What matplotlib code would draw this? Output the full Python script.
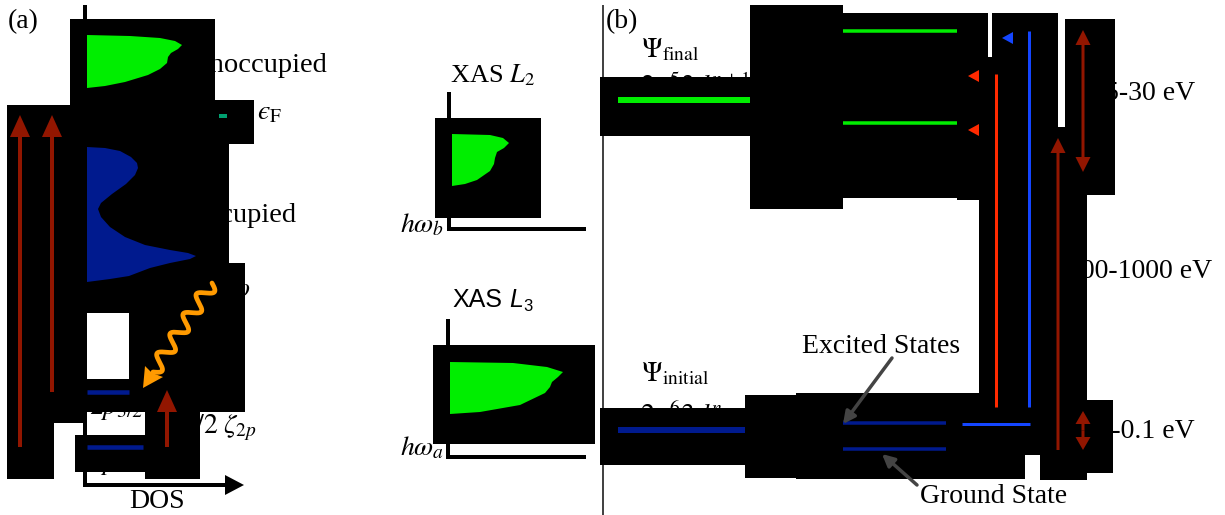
import numpy as np
import matplotlib.pyplot as plt
from matplotlib.patches import Rectangle, Polygon

plt.rcParams['mathtext.fontset'] = 'stix'
SERIF = 'Liberation Serif'
SANS = 'Liberation Sans'

W, H = 1225, 515

GREEN = '#00ee00'
DARK_BLUE = '#001a8e'
BRIGHT_BLUE = '#1446ff'
RED = '#ff2a00'
DARK_RED = '#921600'
ORANGE = '#ff9a00'
GREY = '#444444'
FERMI = '#00a070'

# ---- panel (a): density of states outlines (x, y) ----
unocc_dos = [(87, 35), (130, 36), (160, 38), (175, 41), (182, 45), (178, 49),
             (171, 53), (168, 57), (167, 63), (160, 69), (148, 75), (125, 82),
             (105, 86), (87, 88)]
occ_dos = [(87, 147), (105, 148), (120, 151), (131, 157), (137, 163), (138, 168),
           (135, 175), (126, 184), (112, 194), (101, 203), (98, 209), (101, 217),
           (110, 227), (125, 237), (145, 245), (170, 250), (188, 253), (196, 256),
           (190, 259), (170, 263), (150, 268), (129, 276), (110, 279), (87, 282)]

# ---- XAS edge shapes ----
xas_l2 = [(452, 134), (490, 135), (503, 138), (509, 143), (504, 148), (497, 152),
          (495, 158), (494, 164), (490, 171), (477, 180), (465, 184), (452, 186)]
xas_l3 = [(450, 362), (513, 363), (547, 367), (563, 372), (558, 377), (552, 382),
          (550, 387), (545, 393), (520, 405), (480, 412), (450, 414)]

# ---- core levels in panel (a) ----
core_levels = [('$2p_{3/2}$', 392, 87, 129), ('$2p_{1/2}$', 447, 87, 143)]

# ---- panel (b) levels ----
final_levels = [100]
initial_levels = [430]
final_multiplet = [31, 123]
initial_multiplet = [423, 449]

# ---- opaque blocks (x0, y0, x1, y1) ----
blocks = [
    (70, 19, 215, 144), (150, 100, 254, 144), (7, 105, 87, 423), (7, 423, 54, 479),
    (70, 144, 229, 313), (129, 263, 245, 412), (87, 379, 245, 412),
    (145, 412, 200, 479), (75, 435, 145, 472),
    (435, 118, 541, 218), (433, 345, 595, 444),
    (600, 77, 750, 136), (600, 408, 745, 465), (750, 5, 843, 209),
    (843, 13, 988, 198), (957, 57, 992, 200), (992, 13, 1058, 127),
    (1065, 19, 1115, 195), (979, 127, 1087, 455), (745, 395, 850, 478),
    (796, 393, 1025, 479), (1040, 400, 1087, 480), (1087, 400, 1113, 473),
]

fig = plt.figure(figsize=(12.25, 5.15), dpi=100)
ax = fig.add_axes([0, 0, 1, 1])
ax.set_xlim(0, W)
ax.set_ylim(H, 0)
ax.axis('off')


def seg(xs, ys, color, px, z=3):
    ax.plot(xs, ys, color=color, lw=px * 0.72, solid_capstyle='butt', zorder=z)


def txt(x, y, s, size=20, family=SERIF, ha='left', style='normal', z=1):
    ax.text(x, y, s, fontsize=size, family=family, ha=ha, va='baseline',
            style=style, zorder=z)


def up_arrow(x, y0, y1, color, shaft, hw, hl):
    ax.arrow(x, y0, 0, y1 - y0, width=shaft, head_width=hw, head_length=hl,
             length_includes_head=True, fc=color, ec='none', zorder=3)


# ---------------- panel (a) ----------------
txt(8, 28, '(a)')
seg([85, 85], [5, 487], 'black', 4, z=1)
ax.arrow(85, 485, 140, 0, width=4, head_width=20, head_length=19,
         length_includes_head=False, fc='black', ec='none', zorder=1)
txt(157, 508, 'DOS', ha='center')
txt(189, 72, 'Unoccupied', size=20.5)
txt(188, 222, 'Occupied', size=20.5)
txt(257, 119, '$\u03f5_{\\rm F}$')
txt(251, 296, r'$\hbar\omega$', ha='right')
for label, y, x0, x1 in core_levels:
    txt(89, y + 22, label)
txt(257, 433, r'$3/2\;\zeta_{2p}$', ha='right')

# ---------------- XAS insets ----------------
txt(450, 82, 'XAS $L_2$', size=19)
seg([449, 449], [92, 231], 'black', 4, z=1)
seg([447, 586], [229, 229], 'black', 4, z=1)
txt(444, 232, r'$h\omega_b$', ha='right')

txt(452, 307, 'XAS', size=18, family=SANS)
txt(509, 307, 'L', size=18, family=SANS, style='italic')
txt(523, 311, '3', size=12, family=SANS)
seg([448, 448], [319, 459], 'black', 4, z=1)
seg([446, 586], [457, 457], 'black', 4, z=1)
txt(444, 455, r'$h\omega_a$', ha='right')

# ---------------- panel (b) ----------------
seg([603, 603], [5, 515], GREY, 2, z=1)
txt(606, 28, '(b)')
txt(641, 57, r'$\Psi_{\rm final}$')
txt(640, 95, r'$2p^{5}3d^{n+1}$')
txt(641, 381, r'$\Psi_{\rm initial}$')
txt(640, 424, r'$2p^{6}3d^{n}$')
txt(802, 353, 'Excited States')
txt(920, 503, 'Ground State')
txt(1195, 100, '5-30 eV', ha='right')
txt(1212, 278, '500-1000 eV', ha='right')
txt(1195, 438, '0.05-0.1 eV', ha='right')

# opaque blocks
for x0, y0, x1, y1 in blocks:
    ax.add_patch(Rectangle((x0, y0), x1 - x0, y1 - y0, fc='black', ec='none',
                           zorder=2, antialiased=False))

# ---- coloured content on top ----
ax.add_patch(Polygon(unocc_dos, closed=True, fc=GREEN, ec='none', zorder=3))
ax.add_patch(Polygon(occ_dos, closed=True, fc=DARK_BLUE, ec='none', zorder=3))
seg([219, 227], [116, 116], FERMI, 4)
for label, y, x0, x1 in core_levels:
    seg([x0, x1], [y, y], DARK_BLUE, 4.5)

up_arrow(20, 447, 115, DARK_RED, 4, 20, 22)
up_arrow(52, 392, 115, DARK_RED, 4, 20, 22)
up_arrow(167, 447, 390, DARK_RED, 4, 20, 22)

# photon (wavy) arrow
p0 = np.array([212.0, 283.0])
p1 = np.array([153.0, 372.0])
d = p1 - p0
n = np.array([d[1], -d[0]]) / np.hypot(*d)
t = np.linspace(0, 1, 400)
wave = p0[None, :] + t[:, None] * d[None, :] + 7 * np.sin(2 * np.pi * 4.5 * t)[:, None] * n[None, :]
ax.plot(wave[:, 0], wave[:, 1], color=ORANGE, lw=3.4, solid_capstyle='round', zorder=3)
ax.add_patch(Polygon([(143, 388), (145, 366), (152, 373), (163, 377)], closed=True,
                     fc=ORANGE, ec='none', zorder=3))

ax.add_patch(Polygon(xas_l2, closed=True, fc=GREEN, ec='none', zorder=3))
ax.add_patch(Polygon(xas_l3, closed=True, fc=GREEN, ec='none', zorder=3))

for y in final_levels:
    seg([618, 750], [y, y], GREEN, 6)
for y in initial_levels:
    seg([618, 745], [y, y], DARK_BLUE, 6)
for y in final_multiplet:
    seg([843, 957], [y, y], GREEN, 3.5)
for y in initial_multiplet:
    seg([843, 946], [y, y], DARK_BLUE, 3.5)

# absorption / emission lines
seg([996, 996], [74, 407], RED, 3)
seg([1029, 1029], [31, 407], BRIGHT_BLUE, 3)
seg([962, 1030], [424, 424], BRIGHT_BLUE, 3)
for yc in (76, 130):
    ax.add_patch(Polygon([(968, yc), (979, yc - 6), (979, yc + 6)], closed=True,
                         fc=RED, ec='none', zorder=3))
ax.add_patch(Polygon([(1002, 38), (1013, 32), (1013, 44)], closed=True,
                     fc=BRIGHT_BLUE, ec='none', zorder=3))

up_arrow(1058, 450, 138, DARK_RED, 3, 15, 15)
for ya, yb in ((30, 172), (411, 450)):
    mid = 0.5 * (ya + yb)
    hl = 15 if yb - ya > 60 else 13
    up_arrow(1083, mid, ya, DARK_RED, 3, 15, hl)
    up_arrow(1083, mid, yb, DARK_RED, 3, 15, hl)

# pointers to the multiplet states
ax.annotate('', xy=(843, 424), xytext=(892, 358),
            arrowprops=dict(arrowstyle='-|>', color=GREY, lw=2.5, mutation_scale=18,
                            shrinkA=0, shrinkB=0), zorder=4)
ax.annotate('', xy=(882, 454), xytext=(917, 485),
            arrowprops=dict(arrowstyle='-|>', color=GREY, lw=2.5, mutation_scale=18,
                            shrinkA=0, shrinkB=0), zorder=4)

fig.savefig('out.png', dpi=100)
